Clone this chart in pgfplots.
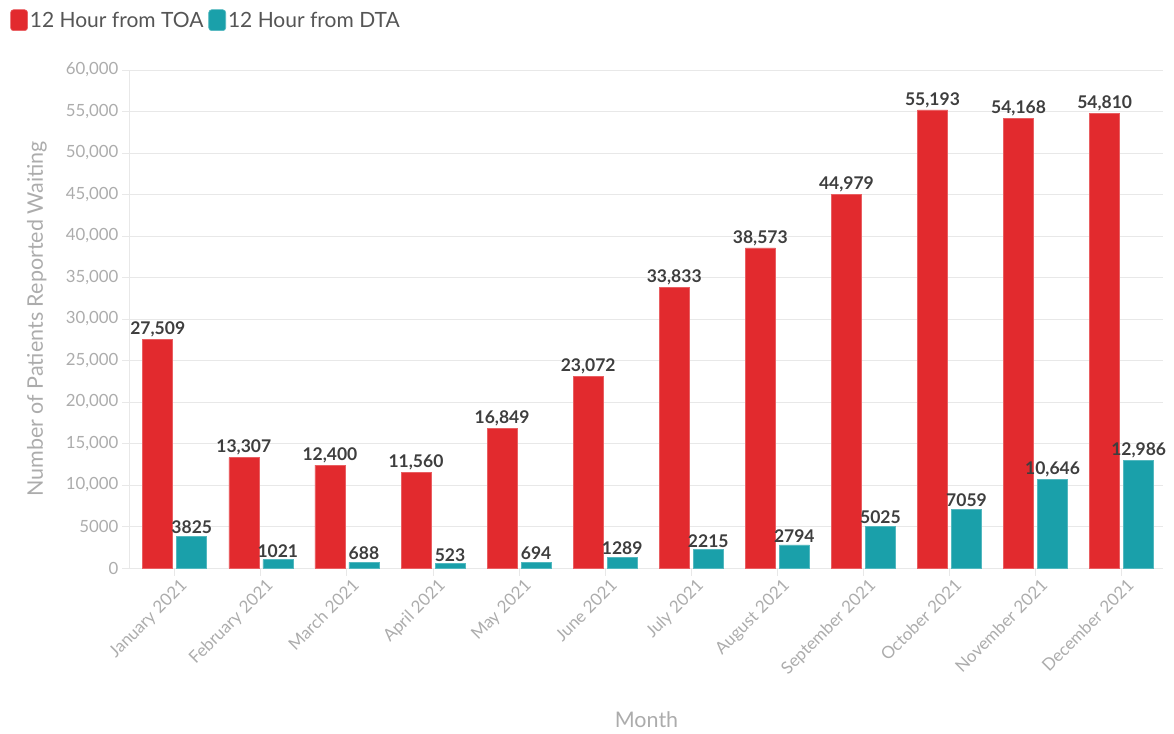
\documentclass[border=0pt]{standalone}
\usepackage{pgfplots}
\pgfplotsset{compat=1.18}
\usepackage{fontspec}
\setmainfont{Lato}
\definecolor{toa}{RGB}{226,42,46}
\definecolor{dta}{RGB}{26,160,170}
\definecolor{tickgray}{RGB}{172,172,172}
\definecolor{gridgray}{RGB}{232,232,232}
\definecolor{labgray}{RGB}{62,62,62}
\definecolor{leggray}{RGB}{85,85,85}
\begin{document}
\begin{tikzpicture}
\begin{axis}[
  scale only axis, width=1033pt, height=498pt,
  xmin=-0.52, xmax=11.48, ymin=0, ymax=60000,
  ybar=4pt, bar width=30pt,
  ytick={0,5000,...,60000},
  xtick={0,...,11},
  xticklabels={January 2021,February 2021,March 2021,April 2021,May 2021,June 2021,July 2021,August 2021,September 2021,October 2021,November 2021,December 2021},
  x tick label style={rotate=45, anchor=north east, font=\fontsize{17}{17}\selectfont, text=tickgray, xshift=5pt, yshift=-1pt},
  y tick label style={font=\fontsize{16.8}{16.8}\selectfont, text=tickgray},
  /pgf/number format/.cd, fixed, precision=0, 1000 sep={,}, min exponent for 1000 sep=4, assume math mode=true,
  /pgfplots/.cd,
  scaled y ticks=false,
  ymajorgrids, grid style={gridgray, line width=1pt},
  axis x line*=bottom, axis y line*=left,
  axis line style={gridgray, line width=1pt},
  tick style={gridgray, line width=1pt},
  major tick length=8pt, tick align=outside,
  ylabel={Number of Patients Reported Waiting},
  ylabel style={at={(axis description cs:-0.090,0.5)}, anchor=center, font=\fontsize{21.5}{21.5}\selectfont, text=tickgray},
  xlabel={Month},
  xlabel style={at={(axis description cs:0.5,-0.305)}, anchor=center, font=\fontsize{21.5}{21.5}\selectfont, text=tickgray},
  legend style={at={(axis description cs:-0.119,1.100)}, anchor=west, draw=none, fill=none,
    legend columns=-1, font=\fontsize{21}{21}\selectfont, text=leggray,
    /tikz/every even column/.append style={column sep=3pt}},
  legend image code/.code={\fill[#1, rounded corners=3pt] (0pt,-10.5pt) rectangle (17pt,10.5pt);},
  nodes near coords,
  nodes near coords style={font=\bfseries\fontsize{17.5}{17.5}\selectfont, text=labgray, anchor=south, inner sep=2pt},
]
\addplot[fill=toa, draw=toa!75!white, line width=0.6pt] coordinates {
(0,27509) (1,13307) (2,12400) (3,11560) (4,16849) (5,23072) (6,33833) (7,38573) (8,44979) (9,55193) (10,54168) (11,54810)};
\addlegendentry{12 Hour from TOA}
\addplot[fill=dta, draw=dta!75!white, line width=0.6pt] coordinates {
(0,3825) (1,1021) (2,688) (3,523) (4,694) (5,1289) (6,2215) (7,2794) (8,5025) (9,7059) (10,10646) (11,12986)};
\addlegendentry{12 Hour from DTA}
\coordinate (o) at (rel axis cs:0,0);
\end{axis}
\path[use as bounding box] (o) ++(-130pt,-165pt) rectangle ++(1174pt,733pt);
\end{tikzpicture}
\end{document}
